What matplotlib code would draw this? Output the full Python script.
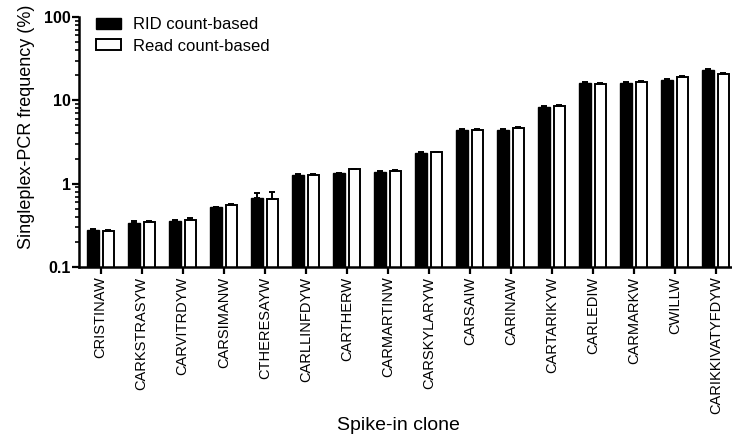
import matplotlib
matplotlib.use("Agg")
import matplotlib.pyplot as plt
import numpy as np
from matplotlib.ticker import LogLocator, FixedLocator, NullFormatter

plt.rcParams['font.family'] = ['Liberation Sans', 'DejaVu Sans']

clones = ["CRISTINAW", "CARKSTRASYW", "CARVITRDYW", "CARSIMANW", "CTHERESAYW",
          "CARLLINFDYW", "CARTHERW", "CARMARTINW", "CARSKYLARYW", "CARSAIW",
          "CARINAW", "CARTARIKYW", "CARLEDIW", "CARMARKW", "CWILLW",
          "CARIKKIVATYFDYW"]
rid = [0.278, 0.34, 0.36, 0.52, 0.68, 1.27, 1.33, 1.38, 2.36, 4.4,
       4.4, 8.4, 16.0, 16.2, 17.4, 23.0]
rid_err = [0.005, 0.015, 0.01, 0.01, 0.10, 0.02, 0.03, 0.02, 0.03, 0.1,
           0.1, 0.1, 0.4, 0.3, 0.4, 0.5]
read = [0.273, 0.35, 0.365, 0.55, 0.66, 1.27, 1.48, 1.41, 2.38, 4.4,
        4.65, 8.5, 15.5, 16.6, 19.3, 20.8]
read_err = [0.005, 0.01, 0.02, 0.02, 0.14, 0.02, 0.04, 0.03, 0.04, 0.15,
            0.15, 0.2, 0.5, 0.4, 0.5, 0.5]
y_ticks = [0.1, 1, 10, 100]
y_ticklabels = ["0.1", "1", "10", "100"]

fig = plt.figure(figsize=(7.32, 4.41), dpi=100)
ax = fig.add_axes([79/732, 1 - 267/441, (731 - 79)/732, (267 - 17)/441])

x = np.arange(len(clones))
w = 0.28
off = 0.186
ax.bar(x - off, rid, width=w, color="black", edgecolor="black", linewidth=1.0,
       label="RID count-based", zorder=2)
ax.bar(x + off, read, width=w, color="white", edgecolor="black", linewidth=1.4,
       label="Read count-based", zorder=2)
ax.errorbar(x - off, rid, yerr=[np.zeros(len(rid)), rid_err], fmt="none",
            ecolor="black", elinewidth=1.4, capsize=2.5, capthick=1.4, zorder=3)
ax.errorbar(x + off, read, yerr=[np.zeros(len(read)), read_err], fmt="none",
            ecolor="black", elinewidth=1.4, capsize=2.5, capthick=1.4, zorder=3)

ax.set_yscale("log")
ax.set_ylim(0.1, 100)
ax.set_xlim(-0.53, 15.37)
ax.yaxis.set_major_locator(FixedLocator(y_ticks))
ax.set_yticklabels(y_ticklabels, fontsize=11.5, fontweight="bold")
ax.yaxis.set_minor_locator(LogLocator(base=10, subs=np.arange(2, 10)))
ax.yaxis.set_minor_formatter(NullFormatter())
ax.set_xticks(x)
ax.set_xticklabels(clones, rotation=90, fontsize=10.5)

for s in ["top", "right"]:
    ax.spines[s].set_visible(False)
for s in ["left", "bottom"]:
    ax.spines[s].set_linewidth(1.8)
ax.tick_params(axis="y", which="major", length=5, width=1.6, pad=1)
ax.tick_params(axis="y", which="minor", length=3, width=1.2)
ax.tick_params(axis="x", which="major", length=5, width=1.6, pad=2)

ax.set_ylabel("Singleplex-PCR frequency (%)", fontsize=13)
ax.yaxis.set_label_coords(-0.067, 0.56)
ax.set_xlabel("Spike-in clone", fontsize=14)
ax.xaxis.set_label_coords(0.49, -0.6)

leg = ax.legend(loc="upper left", bbox_to_anchor=(0.026, 1.0), frameon=False,
                fontsize=12, handlelength=1.5, handleheight=0.66,
                handletextpad=0.7, labelspacing=0.4, borderpad=0,
                borderaxespad=0)

fig.savefig("out.png", dpi=100)
